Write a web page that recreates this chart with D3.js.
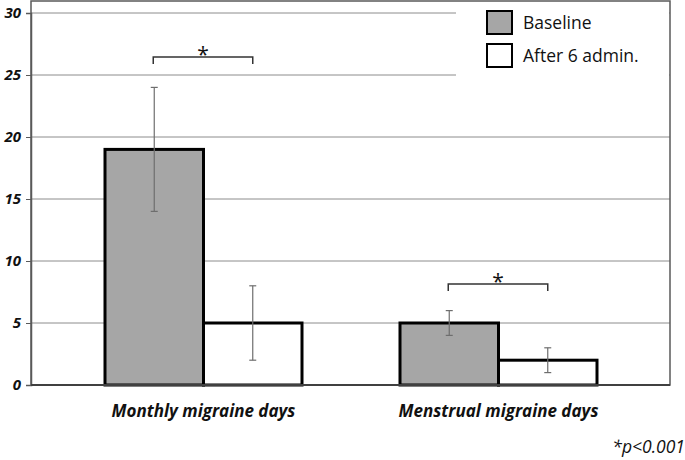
<!DOCTYPE html>
<html><head><meta charset="utf-8">
<script src="https://cdn.jsdelivr.net/npm/d3@7"></script>
<style>body{margin:0;background:#fff}svg{display:block}</style>
</head><body>
<svg id="c" width="685" height="460"></svg>
<script>
const categories = ["Monthly migraine days", "Menstrual migraine days"];
const seriesNames = ["Baseline", "After 6 admin."];
const baselineValues = [19, 5];
const afterValues = [5, 2];
const baselineErr = [5, 1];
const afterErr = [3, 1];
const sigLevels = [26.45, 8.15];
const yTicks = [0, 5, 10, 15, 20, 25, 30];
const footnote = "*p<0.001";

const svg = d3.select("#c");
const pLeft = 31, pRight = 670, pTop = 1, pBottom = 385;
const y = d3.scaleLinear().domain([0, 30]).range([385, 13]);
const x0 = d3.scaleBand().domain(categories).range([56, 646]);
const x1 = d3.scaleBand().domain(seriesNames).range([49, 246]);
const fills = ["#a6a6a6", "#ffffff"];
const font = "'Open Sans', sans-serif";

// grid
svg.append("g").selectAll("line").data(yTicks.filter(d => d > 0)).join("line")
  .attr("x1", pLeft).attr("x2", pRight).attr("y1", d => y(d)).attr("y2", d => y(d))
  .attr("stroke", "#8c8c8c").attr("stroke-width", 1);

// legend background
svg.append("rect").attr("x", 456).attr("y", pTop + 1).attr("width", pRight - 457).attr("height", 105).attr("fill", "#fff");

// plot border
svg.append("rect").attr("x", pLeft).attr("y", pTop).attr("width", pRight - pLeft).attr("height", pBottom - pTop)
  .attr("fill", "none").attr("stroke", "#595959").attr("stroke-width", 1.5);

// y axis
const yAxis = d3.axisLeft(y).tickValues(yTicks).tickSize(5).tickPadding(5);
const ga = svg.append("g").attr("transform", `translate(${pLeft},0)`).call(yAxis);
ga.select(".domain").attr("stroke", "#595959").attr("stroke-width", 1.5);
ga.selectAll(".tick line").attr("stroke", "#595959");
ga.selectAll("text").attr("font-family", font).attr("font-size", 15).attr("font-weight", "bold")
  .attr("font-style", "italic").attr("fill", "#111");

// bars
const data = categories.map((c, i) => ({c, vals: [
  {s: seriesNames[0], v: baselineValues[i], e: baselineErr[i], f: fills[0]},
  {s: seriesNames[1], v: afterValues[i], e: afterErr[i], f: fills[1]}
]}));
const groups = svg.append("g").selectAll("g").data(data).join("g")
  .attr("transform", d => `translate(${x0(d.c)},0)`);
groups.selectAll("rect").data(d => d.vals).join("rect")
  .attr("x", d => x1(d.s)).attr("width", x1.bandwidth())
  .attr("y", d => y(d.v)).attr("height", d => y(0) - y(d.v))
  .attr("fill", d => d.f).attr("stroke", "#000").attr("stroke-width", 3);

// error bars
const eb = groups.selectAll("g.eb").data(d => d.vals).join("g").attr("class", "eb");
eb.append("line").attr("x1", d => x1(d.s) + x1.bandwidth() / 2).attr("x2", d => x1(d.s) + x1.bandwidth() / 2)
  .attr("y1", d => y(d.v - d.e)).attr("y2", d => y(d.v + d.e)).attr("stroke", "#6e6e6e").attr("stroke-width", 1.2);
[-1, 1].forEach(k => {
  eb.append("line").attr("x1", d => x1(d.s) + x1.bandwidth() / 2 - 3.5).attr("x2", d => x1(d.s) + x1.bandwidth() / 2 + 3.5)
    .attr("y1", d => y(d.v + k * d.e)).attr("y2", d => y(d.v + k * d.e)).attr("stroke", "#6e6e6e").attr("stroke-width", 1.2);
});

// bottom axis line
svg.append("line").attr("x1", pLeft).attr("x2", pRight).attr("y1", y(0)).attr("y2", y(0))
  .attr("stroke", "#404040").attr("stroke-width", 2);

// significance brackets
groups.each(function(d, i) {
  const g = d3.select(this);
  const xa = x1(seriesNames[0]) + x1.bandwidth() / 2 - 1;
  const xb = x1(seriesNames[1]) + x1.bandwidth() / 2;
  const yy = y(sigLevels[i]);
  g.append("path").attr("d", `M${xa},${yy + 7}V${yy}H${xb}V${yy + 7}`)
    .attr("fill", "none").attr("stroke", "#333").attr("stroke-width", 1.5);
  g.append("text").attr("x", (xa + xb) / 2).attr("y", yy + 5).attr("text-anchor", "middle")
    .attr("font-family", font).attr("font-size", 21).attr("fill", "#111").text("*");
});

// category labels
svg.append("g").selectAll("text").data(categories).join("text")
  .attr("x", d => x0(d) + x0.bandwidth() / 2).attr("y", 417).attr("text-anchor", "middle")
  .attr("font-family", font).attr("font-size", 17).attr("font-weight", "bold").attr("font-style", "italic")
  .attr("fill", "#111").text(d => d);

// legend
const leg = svg.append("g").selectAll("g").data(seriesNames).join("g")
  .attr("transform", (d, i) => `translate(487,${11 + i * 33})`);
leg.append("rect").attr("width", 25).attr("height", 23).attr("fill", (d, i) => fills[i])
  .attr("stroke", "#000").attr("stroke-width", 2);
leg.append("text").attr("x", 36).attr("y", 12).attr("dy", "0.35em")
  .attr("font-family", font).attr("font-size", 17.5).attr("fill", "#111").text(d => d);

// footnote
svg.append("text").attr("x", 685).attr("y", 453).attr("text-anchor", "end")
  .attr("font-family", font).attr("font-size", 17.5).attr("font-style", "italic").attr("fill", "#111").text(footnote);
</script>
</body></html>
